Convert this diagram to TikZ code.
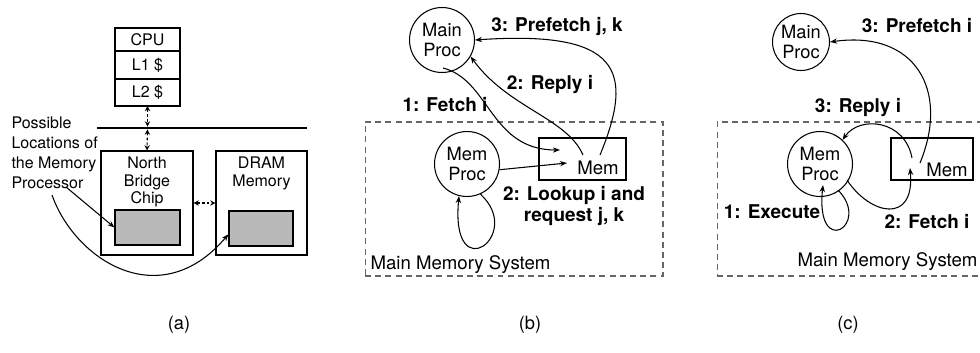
\documentclass[tikz,border=0pt]{standalone}
\usepackage{fontspec}
\setmainfont{TeX Gyre Heros}
\usetikzlibrary{arrows.meta,calc,positioning}

\begin{document}
\begin{tikzpicture}[x=0.02cm,y=-0.02cm,line width=0.6pt,>={Stealth[length=4pt,width=3pt]},
  cell/.style={draw,minimum width=1.3cm,inner sep=0pt,outer sep=0pt,font=\fontsize{9.1}{9.9}\selectfont},
  unitbox/.style={draw,minimum width=1.84cm,minimum height=2.08cm},
  chip/.style={draw,fill=gray!55,minimum width=1.3cm,minimum height=0.7cm},
  tag/.style={align=center,inner sep=0pt,font=\fontsize{9.1}{9.9}\selectfont},
  link/.style={<->,>={Stealth[length=3pt,width=3pt]},dash pattern=on 1.6pt off 1.2pt},
  proc/.style={draw,circle,minimum size=1.3cm,inner sep=0pt,align=center,font=\fontsize{10.4}{11.9}\selectfont},
  bank/.style={draw,minimum width=1.74cm,minimum height=0.84cm},
  sysbox/.style={draw=black!60,dash pattern=on 3.4pt off 2.4pt},
  txt/.style={inner sep=0pt,font=\fontsize{10.6}{11.9}\selectfont},
  msg/.style={inner sep=0pt,align=center,font=\fontsize{10.8}{11.9}\selectfont\bfseries},
  caption/.style={font=\fontsize{10.4}{12}\selectfont}]
  \useasboundingbox (0,0) rectangle (980,352);
  % ---------- panel (a): CPU, bus, north bridge and DRAM
  \node[cell,minimum height=0.46cm] (cpu) at (147.5,39.5) {CPU};
  \node[cell,minimum height=0.56cm,below=0pt of cpu] (lone) {L1 \$};
  \node[cell,minimum height=0.54cm,below=0pt of lone] (ltwo) {L2 \$};
  \coordinate (busL) at (97,128);
  \coordinate (busR) at (307,128);
  \draw[line width=1.7pt] (busL) -- (busR);
  \node[unitbox] (nb) at (147,203) {};
  \node[unitbox,minimum width=1.82cm] (dram) at (261.5,203) {};
  \node[tag,below=3.4pt of nb.north] (nbname) {North\\Bridge\\Chip};
  \node[tag,below=3.4pt of dram.north] (dramname) {DRAM\\Memory};
  \node[chip] (nbchip) at (147.5,227.5) {};
  \node[chip,minimum width=1.28cm] (dramchip) at (261,228.5) {};
  \coordinate (tap) at (ltwo.south |- busL);
  \draw[link,shorten >=0.8pt] (ltwo.south) -- (tap);
  \draw[link,shorten <=0.8pt] (tap) -- (nb.north);
  \draw[link] (nb.east) -- (dram.west);
  \node[tag,align=left,anchor=west,font=\fontsize{9.1}{11.3}\selectfont] (where) at (11,153)
    {Possible\\Locations of\\the Memory\\Processor};
  \coordinate (fromA) at (66,187);
  \coordinate (fromB) at (52,195);
  \draw[->] (fromA) -- (nbchip.west);
  \draw[->] (fromB) .. controls (75,260) and (160,315) .. (dramchip.190);
  \node[caption] (capa) at (179,325) {(a)};
  % ---------- panel (b): memory processor prefetches for the main processor
  \node[sysbox,minimum width=5.96cm,minimum height=3.08cm] (sysb) at (514,199) {};
  \node[txt,anchor=west] (sysbname) at (370,265) {Main Memory System};
  \node[proc] (mainb) at (442,40) {Main\\Proc};
  \node[proc] (memprocb) at (467,164) {Mem\\Proc};
  \node[bank] (memb) at (582.5,159) {};
  \node[txt] (membname) at (598,168) {Mem};
  \node[msg] (prefb) at (557,26) {3: Prefetch j, k};
  \node[msg] (replyb) at (550,85) {2: Reply i};
  \node[msg] (fetchb) at (445,105) {1: Fetch i};
  \node[msg] (lookb) at (574,206) {2: Lookup i and\\request j, k};
  \coordinate (fetchtip) at (560,150);
  \coordinate (looktip) at (567,163);
  \coordinate (replyfoot) at (583,155);
  \coordinate (preffoot) at (600,155);
  \draw[->] ($(mainb)+(1,28)$) .. controls (490,80) and (490,150) .. (fetchtip);
  \draw[->] (memprocb.-10) -- (looktip);
  \draw[->] (replyfoot) .. controls (567,118) and (508,108) .. (mainb.-30);
  \draw[->] (preffoot) .. controls (635,70) and (620,30) .. (mainb.east);
  \draw[->] (memprocb.-66) .. controls (525,235) and (450,290) .. (memprocb.256);
  \node[caption] (capb) at (530,325) {(b)};
  % ---------- panel (c): memory processor runs the code itself
  \node[sysbox,minimum width=5.6cm,minimum height=3.08cm] (sysc) at (857,199) {};
  \node[txt,anchor=east] (syscname) at (978,262) {Main Memory System};
  \node[proc,minimum size=1.14cm] (mainc) at (801,42) {Main\\Proc};
  \node[proc] (memprocc) at (820,164) {Mem\\Proc};
  \node[bank,minimum width=1.64cm] (memc) at (932,159) {};
  \node[txt] (memcname) at (947,170) {Mem};
  \node[msg] (prefc) at (917,26) {3: Prefetch i};
  \node[msg] (replyc) at (858,108) {3: Reply i};
  \node[msg] (execc) at (772,212) {1: Execute};
  \node[msg] (fetchc) at (927,222) {2: Fetch i};
  \coordinate (preffootc) at (920,163);
  \coordinate (replyfootc) at (912,158);
  \coordinate (fetchtipc) at (910,168);
  \draw[->] (preffootc) .. controls (950,90) and (915,30) .. (mainc.east);
  \draw[->] (replyfootc) .. controls (905,120) and (860,115) .. (memprocc.47);
  \draw[->] ($(memprocc)+(27,16)$) .. controls (870,215) and (915,225) .. (fetchtipc);
  \draw[->] ($(memprocc)+(18,26)$) .. controls (872,225) and (815,260) .. ($(memprocc)+(3,21)$);
  \node[caption] (capc) at (848,325) {(c)};
\end{tikzpicture}
\end{document}
